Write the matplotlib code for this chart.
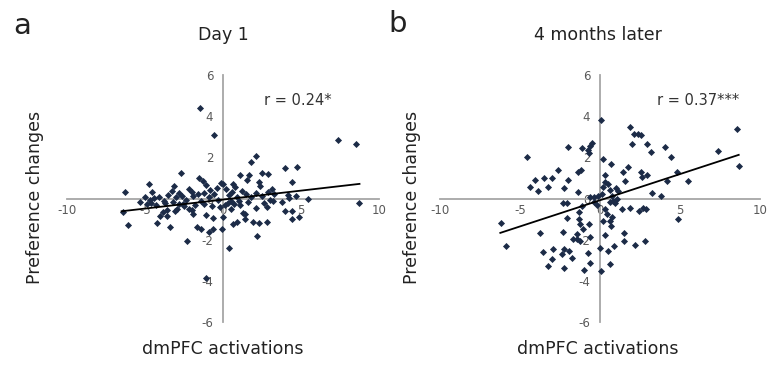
import matplotlib
matplotlib.use("Agg")
import matplotlib.pyplot as plt
import numpy as np

# ---------------- data ----------------
day1_x = [-1.45, -0.6, 7.4, 8.55, 2.1, 1.82, 4.0, 4.75,
          -2.68, -1.52, -1.3, -1.1, -4.74, -6.3, -4.55, -3.14, -2.8, -2.2, -2.0, -0.83, -1.2, -0.1,
          1.09, 1.69, 1.52, 2.52, 2.9, 4.42, 2.33, 2.37, 3.12, 2.9, 0.62, 0.02, 4.19, 4.68, 5.47, 8.7,
          -5.0, -4.7, -4.4, -4.1, -3.8, -3.5, -3.3, -3.0, -2.6, -2.4, -1.9, -1.6, -1.4, -0.9, -0.6, -0.3,
          0.2, 0.4, 0.6, 0.9, 1.2, 1.5, 1.8, 2.1, 2.5, 3.0, 3.3, 0.3, 0.8, -0.4, 1.0,
          -6.4, -6.07, -4.25, -3.4, -4.04, -3.83, -3.6, -2.97, -2.2, -2.0, -1.65, -1.43, -0.88, -0.66,
          -2.33, -0.08, -1.06, 0.4,
          -5.3, -4.9, -4.6, -4.3, -3.7, -3.2, -2.8, -2.5, -1.8, -1.2, -0.7, -0.2, 0.1, 0.5,
          4.89, 4.4, 4.4, 3.97, 3.76, 4.2,
          2.84, 2.33, 1.94, 2.16, 2.8, 2.12, 1.41, 0.88, 0.62, 1.26, 0.5, -0.02, 1.4, 3.2, 2.6, 1.6,
          1.1, 0.7, -1.9, -2.55, -3.06, -3.6, -0.64, -1.1]
day1_y = [4.39, 3.09, 2.85, 2.65, 2.08, 1.78, 1.5, 1.55,
          1.23, 1.0, 0.86, 0.66, 0.72, 0.32, 0.31, 0.62, 0.28, 0.47, 0.32, 0.39, 0.26, 0.74,
          1.15, 1.15, 0.92, 1.26, 1.18, 0.8, 0.79, 0.62, 0.47, 0.31, 0.71, 0.71, 0.18, 0.1, -0.02, -0.22,
          0.05, -0.05, 0.02, 0.08, -0.1, 0.15, 0.35, 0.05, 0.1, -0.05, 0.12, 0.2, -0.1, 0.05, 0.22, -0.05,
          0.45, 0.15, 0.3, 0.05, 0.35, 0.2, 0.05, 0.25, 0.1, -0.05, 0.2, -0.2, 0.55, 0.5, -0.1,
          -0.66, -1.31, -1.18, -1.39, -0.83, -0.66, -0.55, -0.5, -0.5, -0.58, -1.39, -1.5, -1.63, -1.47,
          -2.07, -1.47, -3.87, -2.41,
          -0.18, -0.25, -0.2, -0.3, -0.2, -0.15, -0.25, -0.35, -0.3, -0.25, -0.35, -0.4, -0.3, -0.1,
          -0.91, -0.99, -0.63, -0.63, -0.18, 0.02,
          -1.12, -1.18, -1.12, -1.8, -0.42, -0.47, -1.02, -1.12, -1.23, -0.69, -0.5, -0.91, -0.75, -0.1, -0.2, -0.15,
          -0.3, -0.25, -0.73, -0.28, -0.6, -0.85, -0.93, -0.8]

later_x = [0.04, -4.58, -2.02, -1.1, -0.77, -0.62, -0.48, -0.69, -1.19, -1.35, -2.6, -2.02, -4.06, -3.48,
           -2.98, -4.38, -3.85, -3.27, -2.23, -1.35,
           1.88, 2.15, 2.4, 2.56, 2.02, 2.92, 3.17, 4.06, 4.44, 7.4, 8.54, 8.69,
           0.21, 0.69, 1.77, 1.46, 1.56, 2.56, 2.65, 2.92, 4.79, 4.21, 5.48, 3.23, 3.81, 0.31,
           0.31, 0.52, 0.21, 0.62, 0.98, 1.15, 0.73, 1.04, 0.83,
           -0.6, -0.35, -0.1, 0.1, -2.3, -2.05,
           4.9, 2.71, 2.86, 2.44, 1.88, 1.36, 0.65, 0.95, 0.31, 0.42, 0.73, 0.62, 0.21, 0.69, 0.31,
           1.52, 1.52, 2.19, 2.81, 0.9, 0.48, 0.0, 0.63, 0.05,
           -6.19, -5.89, -3.75, -2.08, -2.29, -3.54, -2.91, -3.02, -3.27, -2.39, -2.23, -1.94, -1.77, -2.23,
           -1.3, -1.3, -1.25, -1.04, -1.46, -1.66, -1.46, -1.25, -0.77, -0.63, -1.0, -1.14, -0.6, -0.7,
           -0.2, -0.4]
later_y = [3.82, 2.03, 2.52, 2.43, 2.35, 2.56, 2.68, 2.19, 1.38, 1.27, 1.38, 0.9, 0.91, 1.02,
           1.02, 0.54, 0.37, 0.54, 0.51, 0.34,
           3.45, 3.13, 3.13, 3.1, 2.65, 2.65, 2.24, 2.48, 2.03, 2.29, 3.38, 1.56,
           1.92, 1.7, 1.51, 1.27, 0.86, 1.31, 1.06, 1.15, 1.31, 0.83, 0.86, 0.26, 0.10, 1.15,
           0.78, 0.7, 0.55, 0.41, 0.5, 0.37, 0.13, -0.03, -0.1,
           0.05, 0.08, 0.1, 0.2, -0.22, -0.2,
           -1.0, -0.44, -0.52, -0.63, -0.47, -0.52, -0.15, -0.2, -0.52, -0.76, -0.9, -1.07, -1.07, -1.33, -1.78,
           -1.69, -2.06, -2.25, -2.06, -2.3, -2.55, -2.4, -3.19, -3.52,
           -1.2, -2.3, -1.69, -0.97, -1.62, -2.59, -2.43, -2.92, -3.27, -2.71, -2.46, -2.55, -2.87, -3.36,
           -0.68, -1.0, -1.25, -1.49, -1.73, -1.98, -1.98, -2.06, -2.63, -3.11, -3.47, -0.36, -1.86, -1.25,
           -0.3, -0.15]

# regression line end points
day1_fit_x = [-6.5, 8.75]
day1_fit_y = [-0.62, 0.71]
later_fit_x = [-6.23, 8.67]
later_fit_y = [-1.67, 2.12]

x_ticks = [-10, -5, 0, 5, 10]
y_ticks = [-6, -4, -2, 0, 2, 4, 6]

titles = ["Day 1", "4 months later"]
r_texts = ["r = 0.24*", "r = 0.37***"]
panel_letters = ["a", "b"]

# ---------------- figure ----------------
W, H = 767, 367
fig = plt.figure(figsize=(W / 100, H / 100), dpi=100)
plt.rcParams['font.family'] = ['DejaVu Sans']

axis_col = '#a6a6a6'
tick_col = '#595959'
dot_col = '#1c2b47'

panels = [
    dict(x=day1_x, y=day1_y, fx=day1_fit_x, fy=day1_fit_y, left=67, right=379, rx=2.6),
    dict(x=later_x, y=later_y, fx=later_fit_x, fy=later_fit_y, left=440, right=760, rx=3.55),
]
top_px, bot_px = 75, 322

for i, p in enumerate(panels):
    ax = fig.add_axes([p['left'] / W, 1 - bot_px / H, (p['right'] - p['left']) / W, (bot_px - top_px) / H])
    ax.set_xlim(-10, 10)
    ax.set_ylim(-6, 6)
    ax.patch.set_alpha(0)
    for s in ['top', 'right']:
        ax.spines[s].set_visible(False)
    for s in ['left', 'bottom']:
        ax.spines[s].set_position(('data', 0))
        ax.spines[s].set_color(axis_col)
        ax.spines[s].set_linewidth(1.3)
    ax.set_xticks(x_ticks)
    ax.set_yticks(y_ticks)
    ax.set_xticklabels([str(t) for t in x_ticks])
    ax.set_yticklabels([str(t) for t in y_ticks])
    ax.tick_params(length=0, labelsize=8.5, colors=tick_col, pad=4)
    ax.tick_params(axis='y', pad=7)
    ax.scatter(p['x'], p['y'], marker='D', s=13, color=dot_col, zorder=3, linewidths=0)
    ax.plot(p['fx'], p['fy'], color='black', lw=1.3, zorder=4)
    ax.text(p['rx'], 4.75, r_texts[i], fontsize=10.5, color='#333333', va='center', ha='left')

for i, cx in enumerate([223, 598]):
    fig.text(cx / W, 1 - 35 / H, titles[i], fontsize=12.5, ha='center', va='center', color='#222222')
    fig.text(cx / W, 1 - 349 / H, "dmPFC activations", fontsize=12.5, ha='center', va='center', color='#222222')
fig.text(35 / W, 1 - 197 / H, "Preference changes", rotation=90, fontsize=12.5, ha='center', va='center', color='#222222')
fig.text(412 / W, 1 - 197 / H, "Preference changes", rotation=90, fontsize=12.5, ha='center', va='center', color='#222222')
fig.text(22 / W, 1 - 26 / H, panel_letters[0], fontsize=21, ha='center', va='center', color='#222222')
fig.text(398 / W, 1 - 24 / H, panel_letters[1], fontsize=21, ha='center', va='center', color='#222222')

fig.savefig("out.png", dpi=100)
